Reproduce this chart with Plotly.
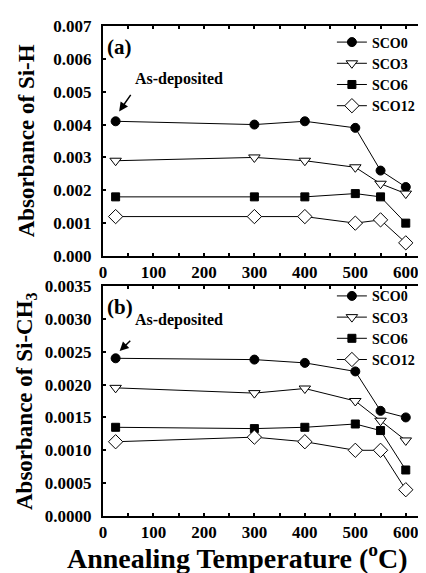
import plotly.graph_objects as go
from plotly.subplots import make_subplots

temps = [25, 300, 400, 500, 550, 600]
series_names = ["SCO0", "SCO3", "SCO6", "SCO12"]

sih = {
    "SCO0": [0.0041, 0.0040, 0.0041, 0.0039, 0.0026, 0.0021],
    "SCO3": [0.0029, 0.0030, 0.0029, 0.0027, 0.0022, 0.0019],
    "SCO6": [0.0018, 0.0018, 0.0018, 0.0019, 0.0018, 0.0010],
    "SCO12": [0.0012, 0.0012, 0.0012, 0.0010, 0.0011, 0.0004],
}
sich3 = {
    "SCO0": [0.0024, 0.00238, 0.00233, 0.0022, 0.0016, 0.0015],
    "SCO3": [0.00195, 0.00187, 0.00194, 0.00175, 0.00145, 0.00115],
    "SCO6": [0.00135, 0.00133, 0.00135, 0.0014, 0.0013, 0.0007],
    "SCO12": [0.00113, 0.0012, 0.00113, 0.0010, 0.0010, 0.0004],
}

x_ticks = [0, 100, 200, 300, 400, 500, 600]
ya_ticks = [0.000, 0.001, 0.002, 0.003, 0.004, 0.005, 0.006, 0.007]
yb_ticks = [0.0000, 0.0005, 0.0010, 0.0015, 0.0020, 0.0025, 0.0030, 0.0035]

styles = {
    "SCO0": dict(symbol="circle", color="black", size=9),
    "SCO3": dict(symbol="triangle-down", color="white", size=10),
    "SCO6": dict(symbol="square", color="black", size=8),
    "SCO12": dict(symbol="diamond", color="white", size=11),
}

FONT = "Liberation Serif"

fig = make_subplots(rows=2, cols=1, vertical_spacing=0.0612)

for row, data, leg in [(1, sih, "legend"), (2, sich3, "legend2")]:
    for name in series_names:
        st = styles[name]
        fig.add_trace(
            go.Scatter(
                x=temps, y=data[name], name=name, mode="lines+markers",
                line=dict(color="black", width=1),
                marker=dict(symbol=st["symbol"], size=st["size"], color=st["color"],
                            line=dict(color="black", width=1)),
                legend=leg, showlegend=True,
            ),
            row=row, col=1,
        )

axis_common = dict(
    showline=True, linecolor="black", linewidth=2, mirror="ticks",
    ticks="inside", ticklen=3, tickwidth=2, tickcolor="black",
    showgrid=False, zeroline=False,
    tickfont=dict(family=FONT, size=17, color="black", weight="bold"),
)

for r in (1, 2):
    fig.update_xaxes(
        range=[0, 648], tickmode="array", tickvals=x_ticks,
        ticktext=[str(v) for v in x_ticks],
        minor=dict(ticks="inside", ticklen=3, tickwidth=2, tickcolor="black", dtick=50, tick0=0),
        **axis_common, row=r, col=1,
    )

fig.update_yaxes(range=[0, 0.007], tickmode="array", tickvals=ya_ticks,
                 ticktext=[f"{v:.3f}" for v in ya_ticks], ticklabelstandoff=6,
                 **axis_common, row=1, col=1)
fig.update_yaxes(range=[0, 0.0035], tickmode="array", tickvals=yb_ticks,
                 ticktext=[f"{v:.4f}" for v in yb_ticks], ticklabelstandoff=6,
                 **axis_common, row=2, col=1)

legend_common = dict(
    bgcolor="rgba(0,0,0,0)", borderwidth=0,
    font=dict(family=FONT, size=14, color="black", weight="bold"),
    xanchor="left", yanchor="top", tracegroupgap=0, itemwidth=30,
)

annotations = [
    dict(text="(a)", xref="paper", yref="paper", x=0.005, y=0.985, xanchor="left", yanchor="top",
         showarrow=False, font=dict(family=FONT, size=21, color="black", weight="bold")),
    dict(text="(b)", xref="paper", yref="paper", x=0.005, y=0.455, xanchor="left", yanchor="top",
         showarrow=False, font=dict(family=FONT, size=21, color="black", weight="bold")),
    dict(text="As-deposited", xref="x", yref="y", x=150, y=0.0054, showarrow=False,
         font=dict(family=FONT, size=16, color="black", weight="bold")),
    dict(text="", xref="x", yref="y", x=32, y=0.0044, ax=57, ay=0.00495, axref="x", ayref="y",
         showarrow=True, arrowhead=2, arrowsize=1.2, arrowwidth=1.5, arrowcolor="black"),
    dict(text="As-deposited", xref="x2", yref="y2", x=150, y=0.00299, showarrow=False,
         font=dict(family=FONT, size=16, color="black", weight="bold")),
    dict(text="", xref="x2", yref="y2", x=33, y=0.00251, ax=57, ay=0.00269, axref="x2", ayref="y2",
         showarrow=True, arrowhead=2, arrowsize=1.2, arrowwidth=1.5, arrowcolor="black"),
    dict(text="Absorbance of Si-H", xref="paper", yref="paper", x=-0.235, y=0.765,
         textangle=-90, showarrow=False, xanchor="center", yanchor="middle",
         font=dict(family=FONT, size=23, color="black", weight="bold")),
    dict(text="Absorbance of Si-CH<sub>3</sub>", xref="paper", yref="paper", x=-0.235, y=0.235,
         textangle=-90, showarrow=False, xanchor="center", yanchor="middle",
         font=dict(family=FONT, size=23, color="black", weight="bold")),
    dict(text="Annealing Temperature (<sup>o</sup>C)", xref="paper", yref="paper", x=0.41, y=-0.083,
         showarrow=False, xanchor="center", yanchor="middle",
         font=dict(family=FONT, size=28, color="black", weight="bold")),
]

fig.update_layout(
    width=426, height=573,
    margin=dict(l=95, r=2, t=18, b=65),
    paper_bgcolor="white", plot_bgcolor="white",
    legend=dict(x=0.7, y=0.999, **legend_common),
    legend2=dict(x=0.7, y=0.481, **legend_common),
    annotations=annotations,
)

fig.write_html("out.html")
